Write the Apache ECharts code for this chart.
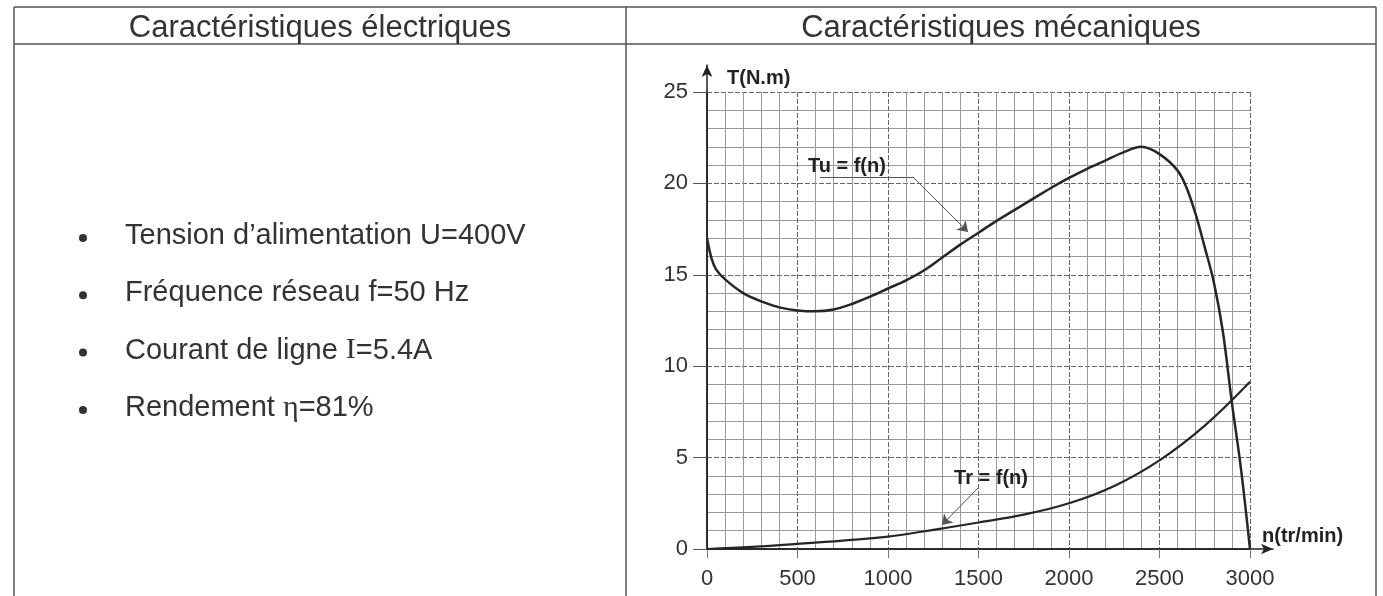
<!DOCTYPE html>
<html>
<head>
<meta charset="utf-8">
<script src="https://cdn.jsdelivr.net/npm/echarts@6/dist/echarts.min.js"></script>
<style>
html,body{margin:0;padding:0;background:#fff}
#main{width:1383px;height:596px}
</style>
</head>
<body>
<div id="main"></div>
<script>
// useful torque Tu = f(n)
var n_tu = [0, 25, 50, 100, 200, 300, 400, 500, 600, 700, 800, 900, 1000, 1100, 1200, 1300, 1400, 1500, 1600, 1700, 1800, 1900, 2000, 2100, 2200, 2300, 2400, 2500, 2600, 2650, 2700, 2750, 2800, 2850, 2900, 2950, 3000];
var t_tu = [17.0, 15.9, 15.3, 14.75, 14.0, 13.55, 13.22, 13.05, 13.0, 13.1, 13.4, 13.8, 14.25, 14.7, 15.25, 15.95, 16.65, 17.3, 17.95, 18.55, 19.15, 19.75, 20.3, 20.8, 21.25, 21.7, 22.0, 21.6, 20.7, 19.75, 18.3, 16.5, 14.6, 11.9, 8.0, 4.4, 0];
// resistant torque Tr = f(n)
var n_tr = [0, 250, 500, 750, 1000, 1250, 1500, 1750, 2000, 2250, 2500, 2750, 3000];
var t_tr = [0, 0.12, 0.28, 0.46, 0.68, 1.05, 1.45, 1.88, 2.5, 3.45, 4.85, 6.75, 9.15];

var header_titles = ['Caractéristiques électriques', 'Caractéristiques mécaniques'];
var elec_lines = ['Tension d\u2019alimentation U=400V', 'Fréquence réseau f=50 Hz', 'Courant de ligne {s|I}=5.4A', 'Rendement {s|\u03b7}=81%'];

// annotation anchors in (n, T)
var tu_label = [773, 20.95];
var tu_leader = [[624, 20.35], [1138, 20.35], [1442, 17.34]];
var tr_label = [1569, 3.88];
var tr_leader = [[1497, 3.34], [1298, 1.31]];

var font = 'Liberation Sans, Arial, sans-serif';

function pairs(xs, ys){
  var out = [];
  for(var i=0;i<xs.length;i++){
    out.push([xs[i], ys[i]]);
  }
  return out;
}

var myChart = echarts.init(document.getElementById('main'));

// table frame + left column
var graphics = [];
var frame = [
  [14, 7, 1376, 7], [14, 44, 1376, 44],
  [14, 7, 14, 596], [626, 7, 626, 596], [1376, 7, 1376, 596]
];
for(var i=0;i<frame.length;i++){
  graphics.push({type:'line', shape:{x1:frame[i][0], y1:frame[i][1], x2:frame[i][2], y2:frame[i][3]},
    style:{stroke:'#555', lineWidth:1.5}, silent:true});
}
graphics.push({type:'text', x:320, y:28, style:{text:header_titles[0], font:'31px ' + font, fill:'#333', textAlign:'center', textVerticalAlign:'middle'}});
graphics.push({type:'text', x:1001, y:28, style:{text:header_titles[1], font:'31px ' + font, fill:'#333', textAlign:'center', textVerticalAlign:'middle'}});
for(var i=0;i<elec_lines.length;i++){
  var yy = 236 + i*57.3;
  graphics.push({type:'circle', shape:{cx:83, cy:yy+2, r:4}, style:{fill:'#333'}});
  graphics.push({type:'text', x:125, y:yy, style:{
    text:elec_lines[i], fontSize:29, fontFamily:font, fill:'#333', textAlign:'left', textVerticalAlign:'middle',
    rich:{s:{fontSize:30, fontFamily:'Liberation Serif, Times New Roman, serif', fill:'#333'}}
  }});
}

var leaderStyle = {color:'#555', width:1, type:'solid'};
var labelStyle = {show:true, position:'inside', fontFamily:font, fontWeight:'bold', fontSize:20, color:'#222'};

option = {
  backgroundColor: '#fff',
  animation: false,
  graphic: graphics,
  grid: [
    {left:707, top:92, width:543, height:457, containLabel:false},
    {left:707, top:65, right:110, bottom:47, containLabel:false}
  ],
  xAxis: [
    {
      gridIndex:0, type:'value', min:0, max:3000, interval:500,
      axisLine:{show:true, lineStyle:{color:'#222', width:1.5}},
      axisTick:{show:true, length:9, lineStyle:{color:'#777'}},
      axisLabel:{fontSize:22, color:'#333', fontFamily:font, margin:19, formatter:function(v){return String(v);}},
      splitLine:{show:true, lineStyle:{color:'#666', width:1, type:[5,2]}},
      minorTick:{show:false, splitNumber:5},
      minorSplitLine:{show:true, lineStyle:{color:'#999', width:1}}
    },
    {
      gridIndex:1, type:'value', min:0, max:1,
      axisLine:{show:true, symbol:['none','arrow'], symbolSize:[8,12], lineStyle:{color:'#222', width:1.5}},
      axisTick:{show:false}, axisLabel:{show:false}, splitLine:{show:false},
      name:'n(tr/min)', nameLocation:'end', nameGap:-11,
      nameTextStyle:{fontFamily:font, fontWeight:'bold', fontSize:20, color:'#222', align:'left', verticalAlign:'bottom', padding:[0,0,3,0]}
    }
  ],
  yAxis: [
    {
      gridIndex:0, type:'value', min:0, max:25, interval:5,
      axisLine:{show:true, lineStyle:{color:'#222', width:1.5}},
      axisTick:{show:true, length:14, lineStyle:{color:'#555'}},
      axisLabel:{fontSize:22, color:'#333', fontFamily:font, margin:19},
      splitLine:{show:true, lineStyle:{color:'#666', width:1, type:[5,2]}},
      minorTick:{show:false, splitNumber:5},
      minorSplitLine:{show:true, lineStyle:{color:'#999', width:1}}
    },
    {
      gridIndex:1, type:'value', min:0, max:1,
      axisLine:{show:true, symbol:['none','arrow'], symbolSize:[8,12], lineStyle:{color:'#222', width:1.5}},
      axisTick:{show:false}, axisLabel:{show:false}, splitLine:{show:false},
      name:'T(N.m)', nameLocation:'end', nameGap:-23,
      nameTextStyle:{fontFamily:font, fontWeight:'bold', fontSize:20, color:'#222', align:'left', verticalAlign:'bottom', padding:[0,0,0,20]}
    }
  ],
  series: [
    {
      name:'Tu', type:'line', xAxisIndex:0, yAxisIndex:0,
      data: pairs(n_tu, t_tu), showSymbol:false, smooth:0.35,
      lineStyle:{color:'#262626', width:2.5}, silent:true,
      markPoint:{
        silent:true,
        data:[{coord:tu_label, symbol:'rect', symbolSize:[1,1], itemStyle:{color:'rgba(0,0,0,0)'},
          label:Object.assign({formatter:'Tu = f(n)'}, labelStyle)}]
      },
      markLine:{
        silent:true, symbolSize:10, label:{show:false}, lineStyle:leaderStyle,
        data:[
          [{coord:tu_leader[0], symbol:'none'}, {coord:tu_leader[1], symbol:'none'}],
          [{coord:tu_leader[1], symbol:'none'}, {coord:tu_leader[2], symbol:'arrow'}]
        ]
      }
    },
    {
      name:'Tr', type:'line', xAxisIndex:0, yAxisIndex:0,
      data: pairs(n_tr, t_tr), showSymbol:false, smooth:0.4,
      lineStyle:{color:'#262626', width:2.2}, silent:true,
      markPoint:{
        silent:true,
        data:[{coord:tr_label, symbol:'rect', symbolSize:[1,1], itemStyle:{color:'rgba(0,0,0,0)'},
          label:Object.assign({formatter:'Tr = f(n)'}, labelStyle)}]
      },
      markLine:{
        silent:true, symbolSize:10, label:{show:false}, lineStyle:leaderStyle,
        data:[
          [{coord:tr_leader[0], symbol:'none'}, {coord:tr_leader[1], symbol:'arrow'}]
        ]
      }
    }
  ]
};
myChart.setOption(option);
</script>
</body>
</html>
